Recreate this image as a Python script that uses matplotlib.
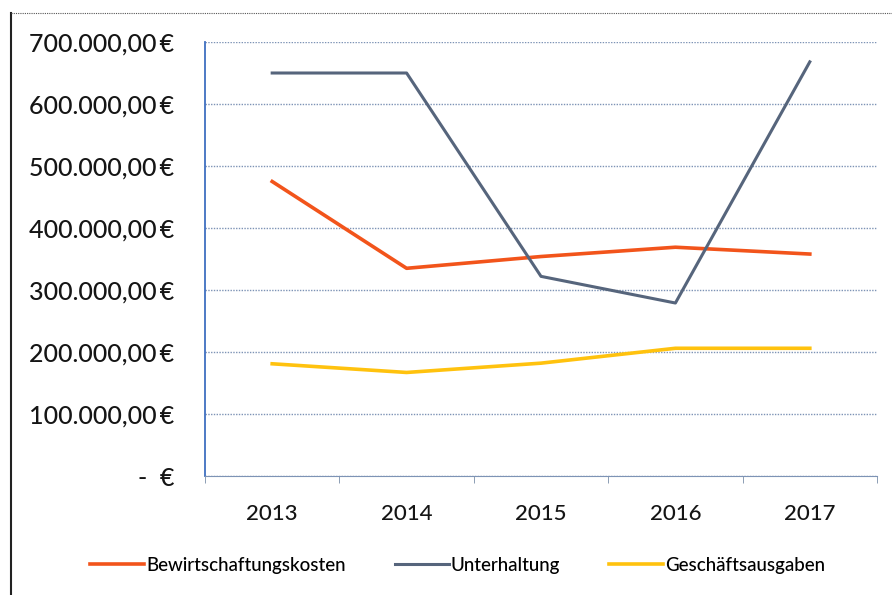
import matplotlib
matplotlib.use('Agg')
from matplotlib import pyplot as plt
from matplotlib.ticker import FuncFormatter, FixedLocator
from matplotlib.lines import Line2D

# Daten
jahre = ['2013', '2014', '2015', '2016', '2017']
bewirtschaftung = [475000, 335000, 354000, 369000, 358000]
unterhaltung = [650000, 650000, 322000, 279000, 668000]
geschaeft = [181000, 167000, 182000, 206000, 206000]

plt.rcParams['font.family'] = ['Lato', 'DejaVu Sans']

fig = plt.figure(figsize=(8.92, 5.95), dpi=100)
ax = fig.add_axes([0.2298, 0.2, 0.7534, 0.7294])

x = range(len(jahre))
ax.plot(x, bewirtschaftung, color='#f2541b', linewidth=2.6, label='Bewirtschaftungskosten')
ax.plot(x, unterhaltung, color='#56657c', linewidth=2.2, label='Unterhaltung')
ax.plot(x, geschaeft, color='#ffc20e', linewidth=2.6, label='Geschäftsausgaben')

ax.set_xlim(-0.5, len(jahre) - 0.5)
ax.set_ylim(0, 700000)
ax.set_yticks(range(0, 700001, 100000))


def euro(v, pos):
    if v == 0:
        return '-  €'
    s = f'{v:,.2f}'.replace(',', 'X').replace('.', ',').replace('X', '.')
    return s + '\u2009€'


ax.yaxis.set_major_formatter(FuncFormatter(euro))
ax.set_xticks(list(x))
ax.set_xticklabels(jahre)
ax.xaxis.set_minor_locator(FixedLocator([i - 0.5 for i in range(len(jahre) + 1)]))

ax.tick_params(axis='y', length=0, pad=22, labelsize=18, labelcolor='#151515')
ax.tick_params(axis='x', which='major', length=0, pad=20, labelsize=16, labelcolor='#151515')
ax.tick_params(axis='x', which='minor', length=5, color='#7a8ea8', direction='out')
for lab in ax.get_yticklabels() + ax.get_xticklabels():
    lab.set_fontweight('medium')

# Gitternetz
ax.grid(axis='y', color='#7d93b5', linestyle=(0, (1, 1)), linewidth=1.0)
ax.set_axisbelow(True)
for side in ['top', 'right']:
    ax.spines[side].set_visible(False)
ax.spines['left'].set_color('#3f6fc0')
ax.spines['left'].set_linewidth(1.3)
ax.spines['bottom'].set_color('#7d93b5')
ax.spines['bottom'].set_linestyle((0, (1, 1)))

# Legende
handles = [Line2D([], [], color='#f2541b', linewidth=2.6),
           Line2D([], [], color='#56657c', linewidth=2.2),
           Line2D([], [], color='#ffc20e', linewidth=2.6)]
fig.legend(handles, ['Bewirtschaftungskosten', 'Unterhaltung', 'Geschäftsausgaben'],
           loc='center', bbox_to_anchor=(0.513, 0.05), ncol=3, frameon=False,
           prop={'size': 13.5, 'weight': 'medium'},
           handlelength=2.9, handletextpad=0.1, columnspacing=2.6)

# Rahmen des Diagrammbereichs
fig.add_artist(Line2D([0.012, 0.012], [0.0, 0.978], color='#222222', linewidth=1.5))
fig.add_artist(Line2D([0.012, 1.0], [0.978, 0.978], color='#555555', linewidth=0.8,
                      linestyle=(0, (1, 1))))

fig.savefig('out.png', dpi=100)
